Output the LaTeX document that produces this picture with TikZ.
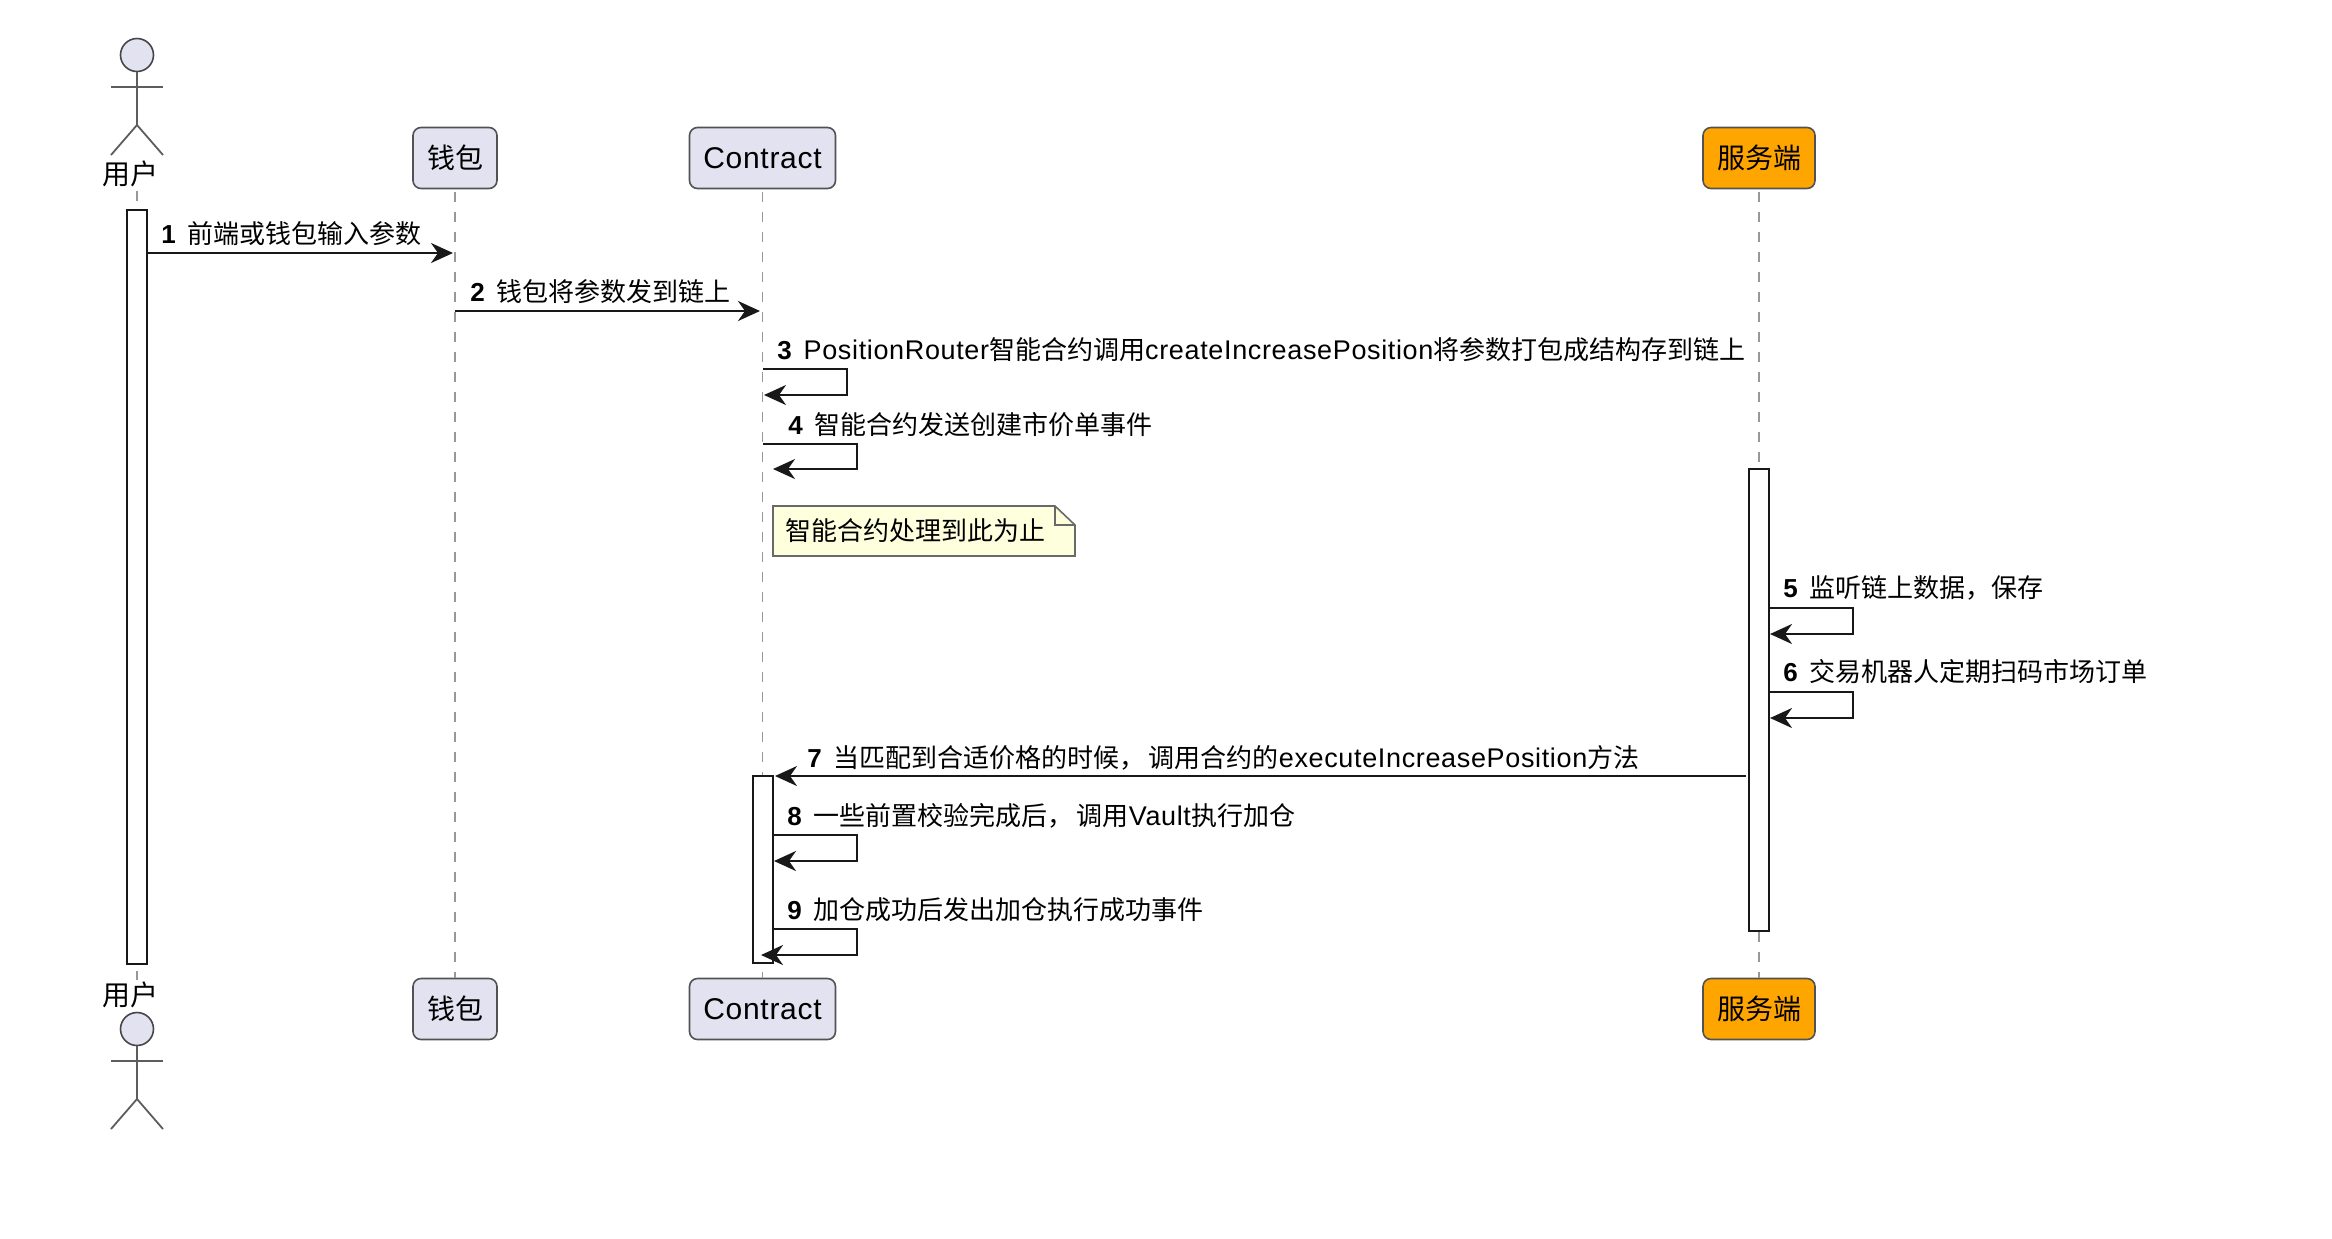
\documentclass[tikz,border=0pt]{standalone}
\usepackage{fontspec}
\setmainfont{Liberation Sans}
\newfontfamily\zh{Noto Sans CJK SC}
\newfontfamily\latw[LetterSpace=2.4]{Liberation Sans}
\usetikzlibrary{arrows.meta}
\definecolor{partfill}{HTML}{E2E2F0}
\definecolor{inkdark}{HTML}{181818}
\definecolor{lifegray}{HTML}{989898}
\definecolor{notefill}{HTML}{FEFFDD}
\definecolor{serverfill}{HTML}{FFA500}
\tikzset{
  part/.style={draw=inkdark!75,line width=0.8pt,rounded corners=4pt,fill=partfill,minimum width=42pt,minimum height=30.5pt,inner sep=0pt,font=\zh\fontsize{14}{16}\selectfont,text=black},
  contractbox/.style={part,minimum width=73pt,font=\latw\fontsize{15}{17}\selectfont},
  serverbox/.style={part,fill=serverfill,minimum width=56pt},
  actorlabel/.style={inner sep=0pt,anchor=base,font=\zh\fontsize{14}{16}\selectfont},
  msglabel/.style={inner sep=0pt,anchor=base west,font=\zh\fontsize{13}{15}\selectfont},
  lifeline/.style={draw=lifegray,line width=0.9pt,dash pattern=on 5pt off 5pt},
  activation/.style={draw=inkdark,line width=1.2pt,fill=white,inner sep=0pt,minimum width=10pt},
  msg/.style={draw=inkdark,line width=1.2pt,-{Stealth[length=11pt,width=10pt,inset=3.5pt]}},
  limb/.style={draw=inkdark!70,line width=0.9pt},
  headshape/.style={circle,draw=inkdark!80,line width=0.8pt,fill=partfill,minimum size=16.5pt,inner sep=0pt},
  notebody/.style={draw=inkdark!65,line width=0.8pt,fill=notefill},
}
\newcommand{\stepnum}[1]{{\rmfamily\bfseries #1}\hspace{5.9pt}}
\newcommand{\lat}[1]{{\latw\fontsize{13.5}{15}\selectfont #1}}
\begin{document}
\begin{tikzpicture}[x=0.5pt,y=-0.5pt]
\useasboundingbox (0,0) rectangle (2332,1238);

% participant heads and feet
\node[part] (walletT) at (455,158) {钱包};
\node[part] (walletB) at (455,1009) {钱包};
\node[contractbox] (contractT) at (762.5,158) {Contract};
\node[contractbox] (contractB) at (762.5,1009) {Contract};
\node[serverbox] (serverT) at (1759,158) {服务端};
\node[serverbox] (serverB) at (1759,1009) {服务端};
\node[actorlabel] (userT) at (130,184) {用户};
\node[actorlabel] (userB) at (130,1005) {用户};

% lifelines
\coordinate (userTop) at (137,191);
\coordinate (userBot) at (137,980);
\draw[lifeline] (userTop) -- (userBot);
\draw[lifeline] ([yshift=-1.5pt]walletT.south) -- (walletB.north);
\draw[lifeline] ([yshift=-1.5pt]contractT.south) -- (contractB.north);
\draw[lifeline] ([yshift=-1.5pt]serverT.south) -- (serverB.north);

% stick figures
\node[headshape] (headT) at (137,55) {};
\coordinate (hipT) at (137,125);
\coordinate (armLT) at (111,87);
\coordinate (armRT) at (163,87);
\coordinate (footLT) at (111,155);
\coordinate (footRT) at (163,155);
\draw[limb] (headT.south) -- (hipT);
\draw[limb] (armLT) -- (armRT);
\draw[limb] (footLT) -- (hipT) -- (footRT);

\node[headshape] (headB) at (137,1029) {};
\coordinate (hipB) at (137,1099);
\coordinate (armLB) at (111,1061);
\coordinate (armRB) at (163,1061);
\coordinate (footLB) at (111,1129);
\coordinate (footRB) at (163,1129);
\draw[limb] (headB.south) -- (hipB);
\draw[limb] (armLB) -- (armRB);
\draw[limb] (footLB) -- (hipB) -- (footRB);

% activation bars
\node[activation,minimum height=377pt] (barU) at (137,587) {};
\node[activation,minimum height=93.5pt] (barC) at (763,869.5) {};
\node[activation,minimum height=231pt] (barS) at (1759,700) {};

% step 1 and 2
\coordinate (m1a) at (147,253);
\coordinate (m1b) at (453,253);
\draw[msg] (m1a) -- (m1b);
\node[msglabel] (t1) at (161,243) {\stepnum{1}前端或钱包输入参数};
\coordinate (m2a) at (455,311);
\coordinate (m2b) at (760,311);
\draw[msg] (m2a) -- (m2b);
\node[msglabel] (t2) at (470,301) {\stepnum{2}钱包将参数发到链上};

% step 3 and 4, self calls on Contract
\coordinate (m3a) at (763,369);
\coordinate (m3c) at (847,395);
\coordinate (m3d) at (764,395);
\draw[msg] (m3a) -| (m3c) -- (m3d);
\node[msglabel] (t3) at (777,359) {\stepnum{3}\lat{PositionRouter}智能合约调用\lat{createIncreasePosition}将参数打包成结构存到链上};
\coordinate (m4a) at (763,444);
\coordinate (m4c) at (857,469);
\coordinate (m4d) at (773,469);
\draw[msg] (m4a) -| (m4c) -- (m4d);
\node[msglabel] (t4) at (788,434) {\stepnum{4}智能合约发送创建市价单事件};

% note
\coordinate (nA) at (773,506);
\coordinate (nB) at (1055,506);
\coordinate (nC) at (1075,525);
\coordinate (nD) at (1075,556);
\coordinate (nE) at (773,556);
\coordinate (nF) at (1055,525);
\draw[notebody] (nA) -- (nB) -- (nC) -- (nD) -- (nE) -- cycle;
\draw[draw=inkdark!65,line width=0.8pt] (nB) -- (nF) -- (nC);
\node[msglabel] (noteText) at (785,540) {智能合约处理到此为止};

% step 5 and 6, self calls on the server
\coordinate (m5a) at (1769,608);
\coordinate (m5c) at (1853,634);
\coordinate (m5d) at (1770,634);
\draw[msg] (m5a) -| (m5c) -- (m5d);
\node[msglabel] (t5) at (1783,597) {\stepnum{5}监听链上数据，保存};
\coordinate (m6a) at (1769,692);
\coordinate (m6c) at (1853,718);
\coordinate (m6d) at (1770,718);
\draw[msg] (m6a) -| (m6c) -- (m6d);
\node[msglabel] (t6) at (1783,681) {\stepnum{6}交易机器人定期扫码市场订单};

% step 7, server back to Contract
\coordinate (m7a) at (1746,776);
\coordinate (m7b) at (775,776);
\draw[msg] (m7a) -- (m7b);
\node[msglabel] (t7) at (807,767) {\stepnum{7}当匹配到合适价格的时候，\hspace{1.6pt}调用合约的\lat{executeIncreasePosition}方法};

% step 8 and 9, self calls inside the Contract activation
\coordinate (m8a) at (773,835);
\coordinate (m8c) at (857,861);
\coordinate (m8d) at (774,861);
\draw[msg] (m8a) -| (m8c) -- (m8d);
\node[msglabel] (t8) at (787,825) {\stepnum{8}一些前置校验完成后，\hspace{1.6pt}调用\lat{Vault}执行加仓};
\coordinate (m9a) at (773,929);
\coordinate (m9c) at (857,955);
\coordinate (m9d) at (761,955);
\draw[msg] (m9a) -| (m9c) -- (m9d);
\node[msglabel] (t9) at (787,919) {\stepnum{9}加仓成功后发出加仓执行成功事件};
\end{tikzpicture}
\end{document}
